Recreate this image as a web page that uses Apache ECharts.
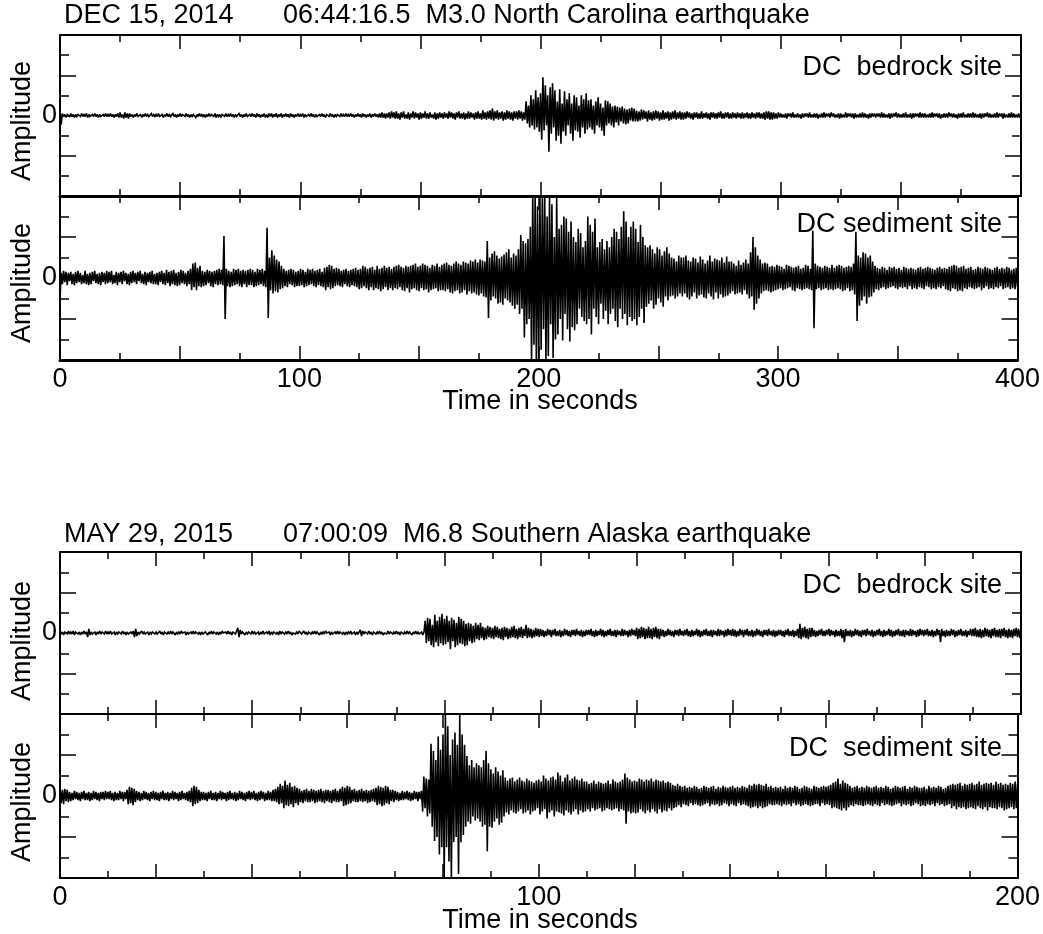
<!DOCTYPE html>
<html>
<head>
<meta charset="utf-8">
<script src="https://cdn.jsdelivr.net/npm/echarts@6/dist/echarts.min.js"></script>
<style>html,body{margin:0;padding:0;background:#fff}#c{width:1043px;height:934px}</style>
</head>
<body>
<div id="c"></div>
<script>
// ---- Event 1: DEC 15, 2014 M3.0 North Carolina (0..400 s, 0.5 s step) ----
const ncStep = 0.5;
const ncTicks = [0, 100, 200, 300, 400];
const ncBedrock = [
6,-9,2,-1,1,-2,1,0,-1,2,-1,1,-2,1,-1,1,0,-1,2,-1,1,-1,2,-2,1,-1,0,1,-1,2,-1,1,-2,1,-1,0,1,-1,2,-1,
1,-1,2,-1,1,-2,1,-1,2,-2,3,-2,1,-3,3,-2,2,-3,2,-1,1,-2,1,-1,2,-1,0,1,-2,1,-1,2,-1,1,-1,0,2,-1,1,-1,
1,-1,2,-1,0,1,-2,1,-1,2,-1,1,-1,0,2,-1,1,-2,1,-1,2,-1,1,0,-1,2,-1,1,-2,1,-1,1,0,-2,1,-1,2,-1,1,-1,
1,-2,1,-1,2,-1,1,0,-1,2,-2,1,-1,1,-2,1,0,-1,2,-1,1,-1,2,-1,1,-2,1,-1,0,2,-1,1,-2,1,-1,2,-1,0,1,-1,
2,-1,1,-2,2,-1,1,-2,1,-1,2,-2,1,-2,2,-1,2,-2,1,-1,2,-2,1,-1,2,-2,1,-1,2,-1,1,-2,2,-1,1,-2,1,-1,2,-1,
1,-1,2,-2,1,-1,0,1,-1,2,-1,1,-2,1,-1,0,1,-1,2,-1,1,-2,1,0,-1,2,-1,1,-2,1,-1,1,0,-1,2,-1,1,-1,2,-1,
1,-1,2,-1,1,-2,1,-1,2,-1,1,-2,2,-1,1,-2,1,-1,2,-2,1,-1,2,-1,1,-2,2,-2,3,-2,2,-3,2,-2,3,-3,4,-2,3,-3,
4,-3,2,-4,3,-2,4,-3,1,-3,3,-4,2,-2,4,-3,3,-2,2,-4,3,-3,2,-2,4,-3,2,-3,3,-2,1,-3,3,-4,2,-3,3,-2,2,-3,
3,-2,2,-3,4,-2,3,-3,2,-4,3,-2,4,-3,2,-3,3,-4,2,-3,4,-3,3,-2,2,-4,3,-3,4,-3,2,-4,5,-3,3,-4,4,-3,5,-4,
7,-5,4,-3,5,-4,3,-3,4,-5,3,-4,5,-3,4,-4,3,-5,4,-3,4,-4,5,-3,4,-5,3,-4,14,-8,10,-12,20,-10,16,-14,25,-12,18,-16,
22,-24,38,-15,30,-10,20,-36,28,-18,32,-12,25,-25,14,-20,26,-28,12,-16,24,-20,16,-10,22,-18,12,-25,20,-15,18,-16,10,-22,20,-12,16,-18,22,-14,
15,-12,16,-14,10,-18,14,-10,18,-12,12,-15,8,-20,15,-10,14,-8,12,-10,9,-12,10,-7,9,-10,8,-6,9,-8,7,-9,6,-8,7,-5,8,-6,7,-6,
5,-6,4,-5,6,-4,5,-3,4,-6,5,-4,3,-5,4,-4,5,-3,4,-5,3,-4,5,-4,3,-3,4,-5,3,-4,4,-3,5,-4,3,-3,4,-4,3,-4,
3,-3,4,-2,3,-3,2,-4,3,-2,3,-3,2,-3,4,-3,2,-2,3,-3,2,-4,3,-2,3,-3,2,-3,3,-2,4,-3,2,-3,3,-2,3,-3,2,-3,
3,-2,2,-3,3,-2,2,-3,3,-3,2,-2,3,-3,2,-3,3,-2,2,-3,3,-2,3,-3,2,-3,3,-4,4,-3,4,-4,3,-4,3,-3,2,-3,3,-2,
2,-2,1,-2,2,-3,2,-1,2,-2,3,-2,1,-2,2,-2,1,-3,2,-2,2,-1,2,-2,3,-2,1,-2,2,-2,2,-3,1,-2,2,-2,3,-2,2,-1,
2,-2,3,-1,2,-2,1,-2,2,-3,2,-2,1,-2,3,-2,2,-1,2,-2,2,-3,2,-2,1,-2,2,-2,3,-2,2,-2,1,-3,2,-2,2,-1,2,-2,
2,-1,2,-2,3,-2,2,-2,1,-2,2,-3,2,-2,2,-1,3,-2,2,-2,1,-2,2,-2,3,-2,1,-2,2,-3,2,-2,2,-1,2,-2,3,-2,2,-2,
2,-2,1,-2,2,-2,3,-2,2,-1,2,-2,2,-3,1,-2,2,-2,2,-2,3,-1,2,-2,2,-2,1,-3,2,-2,2,-2,3,-2,1,-2,2,-2,2,-2,
3,-2,2,-2,1,-2,2,-3,2,-2,2,-1,3,-2,2,-2,1,-2,2,-2,3,-2,2,-1,2,-3,2,-2,1,-2,2,-2,3,-2,2,-2,1,-2,2,-2,
2];
const ncSediment = [
-20,5,-6,7,-4,6,-7,5,-3,6,-6,4,-7,6,-5,7,-4,5,-6,3,-5,7,-6,4,-7,5,-6,6,-3,7,-5,4,-6,5,-7,6,-4,5,-6,7,
-5,6,-4,7,-6,3,-5,6,-7,5,-4,6,-6,7,-3,5,-6,4,-7,6,-5,7,-4,5,-6,6,-3,7,-5,4,-6,6,-7,5,-4,6,-5,7,-6,4,
-6,5,-7,6,-4,7,-6,5,-7,8,-5,6,-8,7,-6,8,-7,5,-8,6,-7,8,-5,7,-6,5,-8,7,-6,9,-12,14,-9,15,-12,10,-8,12,-9,7,
-8,6,-7,8,-5,7,-8,6,-9,7,-6,8,-7,9,-6,8,-7,41,-40,9,-8,7,-9,6,-8,9,-7,8,-6,9,-8,7,-9,8,-6,7,-9,8,-7,9,
-7,8,-9,6,-8,9,-7,8,-6,9,-8,7,-9,49,-39,20,-12,27,-15,22,-13,18,-14,16,-11,12,-10,9,-8,7,-9,8,-6,9,-7,8,-9,6,-8,7,
-8,9,-7,8,-9,6,-8,9,-7,8,-6,9,-8,7,-9,8,-7,9,-8,6,-9,10,-12,11,-9,13,-11,12,-10,9,-8,10,-7,9,-8,7,-9,8,-6,9,
-8,7,-9,8,-7,9,-8,10,-9,8,-11,9,-10,12,-8,11,-10,9,-12,10,-9,11,-12,8,-10,12,-11,9,-13,10,-11,12,-9,10,-12,11,-10,9,-12,11,
-10,12,-11,13,-9,11,-12,10,-13,12,-10,11,-14,12,-11,13,-10,14,-12,11,-13,12,-10,14,-12,13,-11,12,-14,10,-12,13,-11,12,-10,14,-13,11,-12,13,
-12,14,-13,15,-11,13,-14,12,-15,14,-13,16,-12,14,-15,13,-14,16,-12,15,-16,14,-13,17,-15,16,-14,18,-16,15,-17,18,-15,17,-18,16,-19,36,-39,20,
-22,24,-18,26,-20,22,-25,19,-24,21,-26,23,-20,25,-22,28,-24,20,-27,24,-30,22,-26,28,-35,42,-30,36,-58,34,-45,38,-40,50,-80,82,-65,80,-82,70,
-82,78,-70,82,-50,82,-82,60,-76,78,-45,72,-78,40,-60,78,-55,48,-40,52,-61,60,-35,58,-50,45,-62,55,-48,40,-51,35,-45,48,-30,44,-38,30,-42,36,
-45,60,-40,52,-55,45,-30,58,-38,30,-45,35,-25,38,-40,28,-32,36,-45,30,-35,40,-30,48,-42,45,-48,38,-30,50,-40,65,-35,55,-46,40,-38,50,-42,55,
-40,48,-46,35,-38,52,-30,40,-44,32,-28,30,-25,32,-22,28,-30,24,-26,30,-20,28,-24,22,-28,26,-18,30,-22,24,-18,20,-17,19,-20,16,-18,22,-15,20,
-18,20,-15,22,-19,17,-21,16,-18,20,-14,19,-20,15,-17,21,-16,18,-19,14,-20,17,-15,22,-18,16,-21,19,-14,18,-20,17,-16,20,-19,15,-18,21,-17,16,
-15,16,-13,14,-16,12,-15,17,-14,13,-16,15,-12,18,-16,14,-20,25,-18,40,-31,30,-25,22,-20,18,-15,14,-13,15,-12,14,-13,11,-14,12,-13,11,-12,13,
-11,12,-10,11,-12,9,-11,13,-10,12,-9,11,-12,10,-13,11,-10,12,-11,9,-12,10,-11,13,-10,12,-11,9,-12,46,-49,14,-11,12,-10,11,-12,10,-11,12,
-10,11,-12,10,-11,13,-12,10,-11,12,-10,13,-11,12,-13,10,-12,11,-10,12,-13,11,-12,14,-16,45,-42,22,-27,20,-22,25,-18,24,-25,20,-19,22,-18,16,
-14,12,-11,10,-12,9,-10,11,-9,10,-11,8,-10,11,-9,10,-8,11,-10,9,-11,10,-9,8,-10,11,-9,10,-11,9,-8,10,-11,9,-10,8,-11,10,-9,11,
-10,9,-11,10,-8,11,-9,10,-11,9,-10,8,-11,10,-9,11,-10,9,-8,10,-11,9,-12,11,-13,12,-10,13,-11,12,-13,10,-12,11,-13,12,-10,9,-11,10,
-9,11,-10,8,-11,9,-10,11,-9,10,-12,9,-10,11,-8,10,-11,9,-10,8,-11,10,-9,11,-10,9,-8,10,-11,9,-10,11,-9,10,-11,8,-10,9,-11,10,
-9];

// ---- Event 2: MAY 29, 2015 M6.8 Southern Alaska (0..200 s, 0.25 s step) ----
const akStep = 0.25;
const akTicks = [0, 100, 200];
const akBedrock = [
2,-1,1,-2,1,0,-1,2,-1,1,-1,2,-2,1,0,-1,1,-2,1,-1,2,-1,1,-4,4,-2,1,-1,0,1,-2,1,-1,2,-1,1,0,-1,2,-1,
1,-1,2,-1,0,1,-2,1,-1,1,0,-1,2,-1,1,-2,1,-1,0,1,-1,2,-4,4,-3,1,-1,0,2,-1,1,-1,0,1,-2,1,-1,1,0,-1,
1,-1,0,2,-1,1,-2,1,0,-1,1,-1,2,-1,1,0,-2,1,-1,1,-1,2,0,-1,1,-2,1,-1,0,1,-1,2,-1,1,0,-1,1,-2,1,-1,
-1,1,0,-2,1,-1,2,-1,1,0,-1,1,-2,1,-1,2,0,-1,1,-1,2,-1,1,-2,1,0,-1,2,5,-4,3,-1,1,0,-2,1,-1,1,0,-1,
2,-1,1,-1,0,1,-2,1,-1,2,-1,0,1,-1,2,-2,1,-1,1,0,-1,1,-2,2,-1,1,0,-1,1,-1,2,-1,1,-2,0,1,-1,1,-1,2,
1,-1,0,2,-1,1,-2,1,0,-1,1,-1,2,-1,1,0,-2,1,-1,1,-1,2,0,-1,1,-2,1,-1,0,1,-1,2,-1,1,0,-1,1,-2,1,-1,
1,-1,2,-1,0,1,-2,1,-1,1,3,-3,2,-1,1,0,-1,2,-1,1,-2,1,0,-1,1,-1,2,-1,1,-2,0,1,-1,2,-1,1,0,-1,1,-1,
2,-1,1,-2,1,0,-1,1,-1,2,-1,1,0,-2,1,-1,2,-1,1,-1,0,1,-2,1,12,-10,15,-8,14,-12,8,-14,18,-9,12,-13,16,-10,19,-12,
14,-11,17,-9,12,-16,15,-8,13,-14,10,-12,16,-10,14,-11,12,-13,9,-12,10,-8,9,-10,7,-9,10,-6,8,-7,10,-5,6,-7,5,-6,7,-4,6,-5,
5,-6,7,-4,6,-5,4,-6,5,-7,6,-4,5,-6,4,-5,6,-4,7,-5,4,-6,5,-4,6,-5,4,-3,8,-5,5,-4,4,-5,3,-4,5,-3,4,-4,
4,-3,3,-4,2,-3,4,-2,3,-4,3,-2,4,-3,2,-3,3,-4,2,-3,4,-2,3,-3,2,-4,3,-2,3,-3,4,-2,2,-3,3,-4,2,-3,3,-2,
3,-2,4,-3,2,-4,3,-3,2,-2,4,-3,3,-4,2,-3,3,-2,4,-3,2,-3,3,-4,3,-2,2,-3,4,-3,3,-2,2,-4,3,-3,4,-2,3,-3,
5,-6,4,-5,6,-4,5,-6,4,-5,6,-5,4,-6,5,-4,6,-5,4,-6,4,-3,3,-4,2,-3,4,-2,3,-3,2,-4,3,-2,3,-3,4,-2,2,-3,
3,-2,4,-3,2,-4,3,-3,2,-2,4,-3,3,-4,2,-3,3,-2,4,-3,2,-3,3,-4,3,-2,2,-3,4,-3,3,-2,2,-4,3,-3,4,-2,3,-3,
4,-3,3,-4,2,-3,4,-2,3,-4,3,-2,4,-3,2,-3,3,-4,2,-3,4,-2,3,-3,2,-4,3,-2,3,-3,4,-2,2,-3,3,-4,2,-3,3,-2,
3,-3,2,-4,3,-2,4,-3,2,-3,3,-4,2,-3,4,-5,9,-6,5,-4,6,-5,4,-6,5,-4,5,-3,3,-4,2,-3,3,-2,4,-3,2,-3,3,-2,
4,-3,3,-2,2,-4,3,-3,2,-3,4,-5,3,-9,4,-3,2,-3,3,-4,2,-3,4,-2,3,-3,2,-4,3,-2,3,-3,4,-2,2,-3,3,-4,2,-3,
3,-2,4,-3,2,-4,3,-3,2,-2,4,-3,3,-4,2,-3,3,-2,4,-3,2,-3,3,-4,3,-2,2,-3,4,-3,3,-2,2,-4,3,-3,4,-2,3,-3,
3,-2,4,-3,2,-3,3,-4,2,-3,4,-2,3,-9,4,-3,2,-4,3,-3,2,-3,4,-2,3,-4,2,-3,3,-2,4,-3,2,-3,3,-4,2,-2,4,-3,
4,-3,5,-4,3,-4,4,-5,3,-4,5,-3,4,-4,3,-5,4,-3,5,-4,3,-4,4,-5,4,-3,5,-4,3,-5,4,-4,3,-5,4,-3,5,-4,4,-5,
4];
const akSediment = [
8,-7,6,-8,7,-5,6,-6,4,-5,3,-4,5,-3,4,-4,3,-5,4,-3,5,-4,3,-4,4,-5,3,-4,5,-3,4,-4,3,-5,4,-3,4,-4,5,-3,
4,-3,5,-4,3,-5,4,-4,3,-4,5,-3,4,-5,4,-3,6,-8,9,-7,8,-9,7,-6,5,-4,4,-5,3,-4,5,-3,4,-4,3,-5,4,-3,5,-4,
4,-4,3,-5,4,-3,5,-4,3,-4,4,-5,3,-3,5,-4,4,-3,3,-5,4,-4,5,-3,3,-4,4,-5,5,-6,8,-10,10,-8,9,-7,6,-5,4,-4,
4,-4,3,-5,4,-3,5,-4,3,-4,4,-5,3,-3,5,-4,4,-3,3,-5,4,-4,5,-3,3,-4,4,-5,3,-4,5,-3,4,-4,3,-5,4,-3,5,-4,
4,-3,5,-4,3,-5,4,-4,5,-3,4,-5,3,-4,5,-4,4,-5,6,-5,7,-6,9,-8,12,-7,10,-12,15,-9,11,-10,13,-8,9,-11,10,-7,8,-9,
7,-6,5,-7,6,-5,7,-6,5,-6,7,-5,6,-7,5,-6,6,-5,7,-6,5,-7,6,-5,6,-6,5,-7,6,-5,7,-6,5,-6,7,-5,9,-10,8,-9,
10,-8,9,-7,6,-5,7,-6,5,-6,6,-5,7,-6,5,-5,6,-7,5,-6,6,-5,7,-6,8,-9,10,-8,9,-10,8,-9,10,-7,9,-8,6,-5,6,-6,
5,-4,4,-5,3,-4,5,-4,4,-3,5,-4,4,-5,3,-4,5,-3,4,-5,4,-3,5,-15,19,-12,17,-20,16,-17,51,-30,44,-44,35,-40,58,-57,45,-50,
60,-81,82,-50,68,-64,40,-81,55,-45,62,-40,50,-76,79,-45,60,-38,50,-30,39,-25,30,-27,35,-20,28,-24,32,-22,30,-25,28,-30,35,-28,44,-54,32,-30,
26,-31,22,-25,28,-22,24,-28,20,-26,25,-20,18,-16,15,-18,17,-14,18,-16,14,-17,16,-15,18,-13,15,-17,14,-16,17,-14,15,-18,14,-15,13,-14,15,-12,
16,-18,14,-15,20,-13,17,-22,15,-16,18,-14,19,-20,16,-15,23,-16,20,-17,14,-19,18,-14,21,-16,15,-18,17,-15,19,-13,16,-18,15,-14,17,-16,14,-15,
14,-13,12,-15,13,-12,15,-14,12,-13,14,-12,13,-15,12,-14,13,-12,15,-13,12,-14,16,-13,14,-12,13,-15,14,-13,16,-14,22,-27,18,-15,16,-17,14,-16,
15,-17,14,-16,17,-13,16,-15,14,-17,16,-14,15,-16,17,-13,14,-15,16,-17,15,-13,14,-16,15,-14,13,-15,14,-12,13,-14,11,-12,10,-11,12,-9,10,-11,
9,-8,10,-9,8,-10,9,-7,8,-9,10,-8,9,-9,7,-10,8,-9,10,-8,9,-7,8,-10,9,-8,10,-9,7,-8,9,-10,8,-9,10,-7,9,-8,8,-10,
9,-8,10,-9,8,-10,9,-7,8,-9,10,-8,9,-9,8,-10,11,-12,10,-11,12,-10,11,-12,12,-10,11,-12,10,-11,12,-10,9,-8,10,-9,8,-9,9,-8,
8,-9,9,-10,7,-8,10,-9,8,-8,9,-10,8,-7,10,-9,9,-8,7,-10,8,-9,10,-8,9,-9,8,-10,7,-9,10,-8,9,-8,8,-10,9,-7,10,-9,
9,-8,10,-9,11,-12,13,-11,14,-12,17,-13,12,-14,15,-12,13,-14,12,-11,10,-9,8,-10,9,-8,10,-9,8,-9,9,-10,8,-9,10,-8,9,-9,8,-10,
9,-8,10,-9,8,-10,9,-7,8,-9,10,-8,9,-9,7,-10,8,-9,10,-8,9,-7,8,-10,9,-8,10,-9,7,-8,9,-10,8,-9,10,-7,9,-8,8,-10,
8,-9,9,-10,7,-8,10,-9,8,-8,9,-10,8,-7,10,-9,9,-8,7,-10,8,-9,10,-8,11,-12,12,-10,11,-13,12,-11,13,-12,10,-11,12,-13,11,-12,
12,-11,13,-12,11,-13,12,-10,14,-12,11,-13,12,-11,13,-14,12,-11,13,-12,11,-12,14,-13,12,-11,13,-12,11,-14,12,-13,11,-12,13,-11,12,-13,14,-12,
12];

const titles = [
  ['DEC 15, 2014', '06:44:16.5  M3.0 North Carolina earthquake'],
  ['MAY 29, 2015', '07:00:09  M6.8 Southern Alaska earthquake']
];
const siteLabels = ['DC  bedrock site', 'DC sediment site', 'DC  bedrock site', 'DC  sediment site'];
const yLabel = 'Amplitude';
const xLabel = 'Time in seconds';

// ---- layout ----
const FONT = '"Liberation Sans", Arial, Helvetica, sans-serif';
const FS = 27;
const panels = [
  {top: 35,  height: 161, xmax: 400, major: 50, ticks: ncTicks, data: ncBedrock,  step: ncStep, showX: false, bw: 2, tw: 2},
  {top: 196, height: 164, xmax: 400, major: 50, ticks: ncTicks, data: ncSediment, step: ncStep, showX: true,  bw: 3, tw: 3},
  {top: 552, height: 162, xmax: 200, major: 20, ticks: akTicks, data: akBedrock,  step: akStep, showX: false, bw: 2, tw: 2},
  {top: 714, height: 164, xmax: 200, major: 20, ticks: akTicks, data: akSediment, step: akStep, showX: true,  bw: 2, tw: 2}
];
const LEFT = 60, RIGHT = 22;

const grid = [], xAxis = [], yAxis = [], series = [];
panels.forEach((p, i) => {
  grid.push({left: LEFT, right: RIGHT, top: p.top, height: p.height, containLabel: false});
  const tickStyle = {color: '#000', width: 1.5};
  const common = {
    type: 'value', gridIndex: i, min: 0, max: p.xmax, interval: p.major,
    splitLine: {show: false}, minorSplitLine: {show: false},
    axisTick: {show: true, inside: true, length: 14, lineStyle: tickStyle},
    minorTick: {show: true, splitNumber: 2, length: 7, lineStyle: tickStyle}
  };
  xAxis.push(Object.assign({}, common, {
    position: 'bottom',
    axisLine: {show: true, onZero: false, lineStyle: {color: '#000', width: p.bw}},
    axisLabel: {show: p.showX, margin: 6, color: '#000', fontSize: FS, fontFamily: FONT,
      formatter: v => (p.ticks.indexOf(v) >= 0 ? String(v) : '')}
  }));
  xAxis.push(Object.assign({}, common, {
    position: 'top',
    axisLine: {show: true, onZero: false, lineStyle: {color: '#000', width: p.tw}},
    axisLabel: {show: false}
  }));
  const ycommon = {
    type: 'value', gridIndex: i, min: -80, max: 80, interval: 40,
    splitLine: {show: false}, minorSplitLine: {show: false},
    axisLine: {show: true, onZero: false, lineStyle: {color: '#000', width: 2}},
    axisTick: {show: true, inside: true, length: 16, lineStyle: tickStyle},
    minorTick: {show: true, splitNumber: 2, length: 9, lineStyle: tickStyle}
  };
  yAxis.push(Object.assign({}, ycommon, {
    position: 'left',
    axisLabel: {show: true, margin: 3, color: '#000', fontSize: FS, fontFamily: FONT,
      formatter: v => (v === 0 ? '0' : '')}
  }));
  yAxis.push(Object.assign({}, ycommon, {position: 'right', axisLabel: {show: false}}));
  series.push({
    type: 'line', xAxisIndex: 2 * i, yAxisIndex: 2 * i, symbol: 'none', animation: false,
    lineStyle: {color: '#000', width: 1.6, join: 'miter', miterLimit: 2}, clip: true,
    data: p.data.map((v, k) => [k * p.step, v])
  });
});

const graphic = [];
function txt(text, x, y, opts) {
  graphic.push(Object.assign({
    type: 'text', x: x, y: y, silent: true,
    style: Object.assign({text: text, fill: '#000', fontSize: FS, fontFamily: FONT,
      textAlign: 'left', textVerticalAlign: 'middle', align: 'left', verticalAlign: 'middle'}, opts && opts.style)
  }, opts && opts.el));
}
// titles
txt(titles[0][0], 64, 16); txt(titles[0][1], 283, 16);
txt(titles[1][0], 64, 535); txt(titles[1][1], 283, 535);
// site labels
const siteY = [68, 225, 586, 749];
siteLabels.forEach((s, i) => txt(s, 1002, siteY[i], {style: {textAlign: 'right', align: 'right'}}));
// Amplitude labels
const ampY = [121, 283, 641, 802];
ampY.forEach(y => txt(yLabel, 23, y, {style: {textAlign: 'center', align: 'center'}, el: {rotation: Math.PI / 2}}));
// x axis names
txt(xLabel, 540, 402, {style: {textAlign: 'center', align: 'center'}});
txt(xLabel, 540, 921, {style: {textAlign: 'center', align: 'center'}});

const chart = echarts.init(document.getElementById('c'), null, {renderer: 'canvas'});
chart.setOption({animation: false, backgroundColor: '#fff', grid, xAxis, yAxis, series, graphic});
</script>
</body>
</html>
